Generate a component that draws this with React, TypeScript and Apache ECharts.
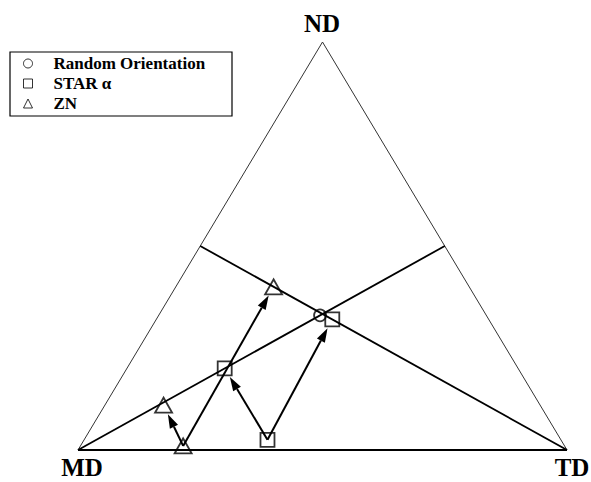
import { useEffect, useRef } from "react";
import * as echarts from "echarts";

// Compositions given as [MD, TD, ND] fractions
const randomOrientation = [[0.34, 0.33, 0.33]];
const starAlpha = [
  [0.6, 0.375, 0.025],
  [0.6, 0.2, 0.2],
  [0.32, 0.36, 0.32],
];
const zn = [
  [0.78, 0.21, 0.01],
  [0.77, 0.12, 0.11],
  [0.4, 0.2, 0.4],
];
// Arrows between points of the same series: [from index, to index]
const starAlphaPaths = [
  [0, 1],
  [0, 2],
];
const znPaths = [
  [0, 1],
  [0, 2],
];
const seriesNames = ["Random Orientation", "STAR α", "ZN"];
const vertexLabels = ["MD", "TD", "ND"];

const FONT = "Liberation Serif";

// ternary [MD, TD, ND] -> cartesian [x, y]; MD at (0,0), TD at (1,0), ND at (0.5,1)
const toXY = (p: number[]) => [p[1] + p[2] / 2, p[2]];

const MD_V = toXY([1, 0, 0]);
const TD_V = toXY([0, 1, 0]);
const ND_V = toXY([0, 0, 1]);
const mid = (a: number[], b: number[]) => [(a[0] + b[0]) / 2, (a[1] + b[1]) / 2];

const vertexText = (text: string, x: number, y: number) => ({
  type: "text",
  x,
  y,
  style: {
    text,
    fontFamily: FONT,
    fontWeight: "bold",
    fontSize: 25,
    fill: "#000",
    align: "center",
    verticalAlign: "middle",
  },
});

export default function App() {
  const ref = useRef<HTMLDivElement>(null);

  useEffect(() => {
    if (!ref.current) return;
    const chart = echarts.init(ref.current, undefined, { renderer: "svg" });

    const arrows: number[][] = [];
    const addArrows = (pts: number[][], paths: number[][]) => {
      paths.forEach(([a, b]) => {
        const p = toXY(pts[a]);
        const q = toXY(pts[b]);
        arrows.push([p[0], p[1], q[0], q[1]]);
      });
    };
    addArrows(starAlpha, starAlphaPaths);
    addArrows(zn, znPaths);

    const markerStyle = {
      color: "rgba(255,255,255,0)",
      borderColor: "#000",
      borderWidth: 1.8,
    };

    chart.setOption({
      animation: false,
      backgroundColor: "#fff",
      textStyle: { fontFamily: FONT },
      grid: { left: 78, right: 24, top: 42, bottom: 32 },
      xAxis: { type: "value", min: 0, max: 1, show: false },
      yAxis: { type: "value", min: 0, max: 1, show: false },
      legend: {
        orient: "vertical",
        left: 23,
        top: 55,
        padding: 0,
        itemWidth: 9,
        itemHeight: 9,
        itemGap: 3,
        data: seriesNames,
        itemStyle: { borderWidth: 1 },
        textStyle: {
          fontFamily: FONT,
          fontWeight: "bold",
          fontSize: 17,
          lineHeight: 16,
          color: "#000",
          padding: [0, 0, 0, 16],
        },
      },
      graphic: [
        {
          type: "rect",
          shape: { x: 10, y: 52, width: 222, height: 64 },
          style: { fill: "none", stroke: "#000", lineWidth: 1.2 },
        },
        vertexText(vertexLabels[2], 322, 23),
        vertexText(vertexLabels[0], 82, 467),
        vertexText(vertexLabels[1], 572, 467),
      ],
      series: [
        {
          type: "line",
          silent: true,
          symbol: "none",
          data: [MD_V, ND_V, TD_V],
          lineStyle: { color: "#333", width: 1 },
          z: 1,
        },
        {
          type: "line",
          silent: true,
          symbol: "none",
          data: [MD_V, TD_V],
          lineStyle: { color: "#000", width: 2 },
          z: 1,
        },
        {
          type: "lines",
          coordinateSystem: "cartesian2d",
          silent: true,
          data: [
            { coords: [MD_V, mid(ND_V, TD_V)] },
            { coords: [TD_V, mid(MD_V, ND_V)] },
          ],
          lineStyle: { color: "#000", width: 1.8, opacity: 1 },
          z: 2,
        },
        {
          type: "custom",
          silent: true,
          data: arrows,
          encode: { x: [0, 2], y: [1, 3] },
          z: 3,
          renderItem: (_params: any, api: any) => {
            const p = api.coord([api.value(0), api.value(1)]);
            const q = api.coord([api.value(2), api.value(3)]);
            const dx = q[0] - p[0];
            const dy = q[1] - p[1];
            const len = Math.hypot(dx, dy);
            const ux = dx / len;
            const uy = dy / len;
            const gap = 10;
            const headLen = 14;
            const headW = 9;
            const tip = [q[0] - ux * gap, q[1] - uy * gap];
            const base = [tip[0] - ux * headLen, tip[1] - uy * headLen];
            return {
              type: "group",
              children: [
                {
                  type: "line",
                  shape: { x1: p[0], y1: p[1], x2: base[0], y2: base[1] },
                  style: { stroke: "#000", lineWidth: 2 },
                },
                {
                  type: "polygon",
                  shape: {
                    points: [
                      tip,
                      [base[0] - (uy * headW) / 2, base[1] + (ux * headW) / 2],
                      [base[0] + (uy * headW) / 2, base[1] - (ux * headW) / 2],
                    ],
                  },
                  style: { fill: "#000" },
                },
              ],
            };
          },
        },
        {
          type: "scatter",
          name: seriesNames[0],
          symbol: "circle",
          symbolSize: 12,
          data: randomOrientation.map(toXY),
          itemStyle: markerStyle,
          z: 4,
        },
        {
          type: "scatter",
          name: seriesNames[1],
          symbol: "rect",
          symbolSize: 14,
          data: starAlpha.map(toXY),
          itemStyle: markerStyle,
          z: 4,
        },
        {
          type: "scatter",
          name: seriesNames[2],
          symbol: "triangle",
          symbolSize: [17, 15],
          data: zn.map(toXY),
          itemStyle: markerStyle,
          z: 4,
        },
      ],
    });

    return () => chart.dispose();
  }, []);

  return (
    <div
      ref={ref}
      style={{ position: "absolute", left: 0, top: 0, width: 591, height: 482 }}
    />
  );
}
